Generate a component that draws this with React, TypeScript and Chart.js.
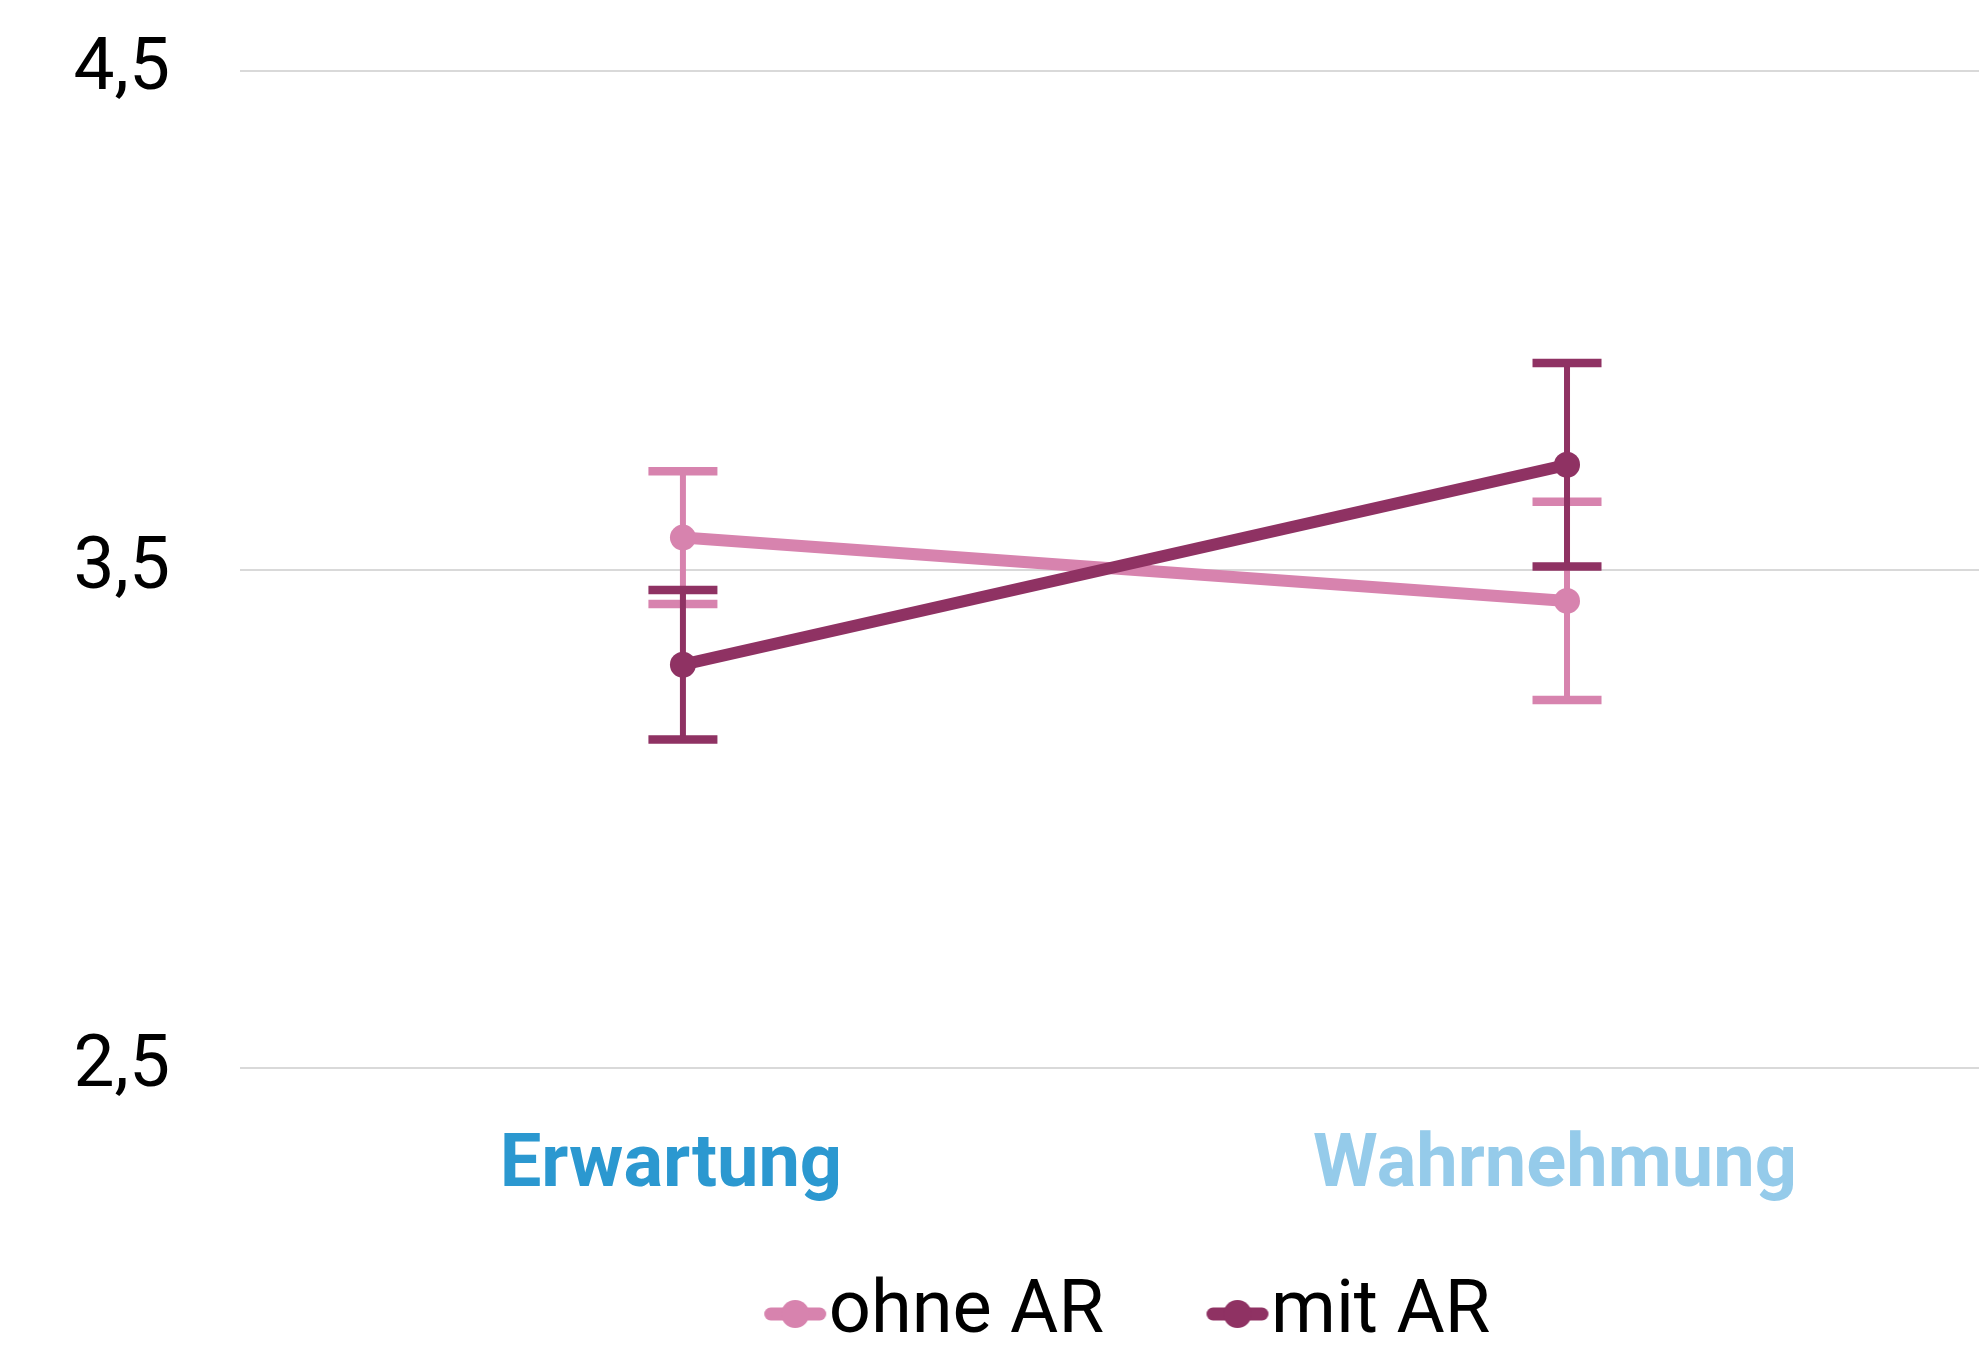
import React, { useEffect, useRef } from 'react';
import { Chart, registerables } from 'chart.js';

Chart.register(...registerables);

// ---- data ----
const categories = ['Erwartung', 'Wahrnehmung'];
const categoryColors = ['#2B98D0', '#95CBEA'];
const seriesNames = ['ohne AR', 'mit AR'];
const seriesColors = ['#D783AE', '#8F3263'];
const ohneMeans = [3.564, 3.437];
const ohneErrors = [0.133, 0.199];
const mitMeans = [3.309, 3.71];
const mitErrors = [0.15, 0.204];
const yTicks = [2.5, 3.5, 4.5];

function makeMarker(color: string): HTMLCanvasElement {
  const c = document.createElement('canvas');
  c.width = 136;
  c.height = 34;
  const g = c.getContext('2d')!;
  g.strokeStyle = color;
  g.fillStyle = color;
  g.lineWidth = 13;
  g.lineCap = 'round';
  g.beginPath();
  g.moveTo(78.5, 18);
  g.lineTo(127.5, 18);
  g.stroke();
  g.beginPath();
  g.arc(103, 18, 14, 0, Math.PI * 2);
  g.fill();
  return c;
}

const errorBarPlugin = {
  id: 'errorBars',
  beforeDatasetsDraw(chart: any) {
    const { ctx, scales } = chart;
    const xs = scales.x;
    const ys = scales.y;
    const drawOrder = [1, 0];
    drawOrder.forEach((di) => {
      const ds = chart.data.datasets[di];
      const errs: number[] = ds.errors;
      ctx.save();
      ctx.strokeStyle = ds.borderColor;
      ds.data.forEach((pt: any, i: number) => {
        const px = xs.getPixelForValue(pt.x);
        const yTop = ys.getPixelForValue(pt.y + errs[i]);
        const yBot = ys.getPixelForValue(pt.y - errs[i]);
        ctx.lineCap = 'butt';
        ctx.lineWidth = 6;
        ctx.beginPath();
        ctx.moveTo(px, yTop);
        ctx.lineTo(px, yBot);
        ctx.stroke();
        ctx.lineWidth = 8.5;
        ctx.beginPath();
        ctx.moveTo(px - 34.5, yTop);
        ctx.lineTo(px + 34.5, yTop);
        ctx.moveTo(px - 34.5, yBot);
        ctx.lineTo(px + 34.5, yBot);
        ctx.stroke();
      });
      ctx.restore();
    });
  },
};

export default function App() {
  const ref = useRef<HTMLCanvasElement | null>(null);

  useEffect(() => {
    if (!ref.current) return;
    const markers = [makeMarker(seriesColors[0]), makeMarker(seriesColors[1])];
    const mk = (means: number[]) => means.map((v, i) => ({ x: i, y: v }));
    const lineStyle = {
      borderWidth: 12,
      pointRadius: 13,
      pointBorderWidth: 0,
      tension: 0,
    };
    const chart = new Chart(ref.current, {
      type: 'line',
      data: {
        datasets: [
          {
            label: seriesNames[1],
            data: mk(mitMeans),
            errors: mitErrors,
            borderColor: seriesColors[1],
            backgroundColor: seriesColors[1],
            pointBackgroundColor: seriesColors[1],
            ...lineStyle,
          } as any,
          {
            label: seriesNames[0],
            data: mk(ohneMeans),
            errors: ohneErrors,
            borderColor: seriesColors[0],
            backgroundColor: seriesColors[0],
            pointBackgroundColor: seriesColors[0],
            ...lineStyle,
          } as any,
        ],
      },
      options: {
        responsive: false,
        animation: false,
        layout: { autoPadding: false, padding: { top: 71, left: 0, right: 0, bottom: 0 } },
        scales: {
          x: {
            type: 'linear',
            min: -0.501,
            max: 1.466,
            afterBuildTicks: (s: any) => {
              s.ticks = categories.map((_, i) => ({ value: i }));
            },
            afterFit: (s: any) => {
              s.height = 141;
              s.paddingLeft = 0;
              s.paddingRight = 0;
            },
            grid: { display: false, drawTicks: false },
            border: { display: false },
            ticks: {
              autoSkip: false,
              maxRotation: 0,
              padding: 55,
              labelOffset: -12,
              color: (c: any) => categoryColors[c.index],
              font: { family: 'Roboto', size: 74, weight: 'bold' },
              callback: (_v: any, i: number) => categories[i],
            },
          },
          y: {
            min: 2.5,
            max: 4.5,
            afterBuildTicks: (s: any) => {
              s.ticks = yTicks.map((v) => ({ value: v }));
            },
            afterFit: (s: any) => {
              s.width = 240;
              s.paddingTop = 0;
              s.paddingBottom = 0;
            },
            grid: { color: '#d9d9d9', lineWidth: 2, drawTicks: false },
            border: { display: false },
            ticks: {
              padding: 70,
              color: '#000',
              font: { family: 'Roboto', size: 73 },
              callback: (v: any) => String(v).replace('.', ','),
            },
          },
        },
        plugins: {
          tooltip: { enabled: false },
          legend: {
            position: 'bottom',
            fullSize: false,
            reverse: true,
            labels: {
              usePointStyle: true,
              pointStyleWidth: 63,
              padding: 67,
              color: '#000',
              font: { family: 'Roboto', size: 74 },
              generateLabels: (ch: any) => {
                const items = (Chart.defaults.plugins.legend.labels as any).generateLabels(ch);
                return items.map((it: any) => ({
                  ...it,
                  pointStyle: it.datasetIndex === 0 ? markers[1] : markers[0],
                }));
              },
            },
          },
        },
      } as any,
      plugins: [errorBarPlugin],
    });
    return () => chart.destroy();
  }, []);

  return (
    <div style={{ position: 'fixed', left: 0, top: 0, width: 1979, height: 1345, overflow: 'hidden', background: '#fff' }}>
      <canvas ref={ref} width={1979} height={1360} style={{ display: 'block' }} />
    </div>
  );
}
